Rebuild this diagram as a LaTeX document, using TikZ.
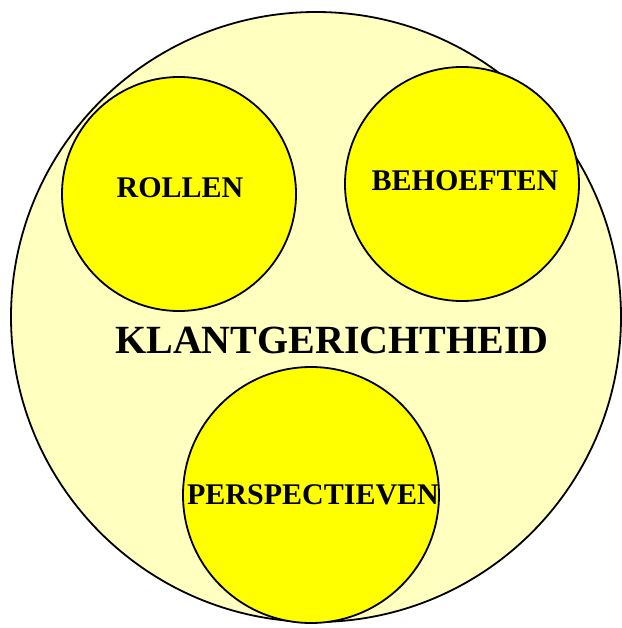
\documentclass[tikz,border=0pt]{standalone}
\usepackage{fontspec}
\setmainfont{Liberation Serif}

\definecolor{paleyellow}{RGB}{255,255,192}
\definecolor{brightyellow}{RGB}{255,255,0}

\begin{document}
\begin{tikzpicture}[x=1pt, y=-1pt,
  outer/.style={circle, draw=black, line width=1.8pt, fill=paleyellow, inner sep=0pt, minimum size=610pt},
  inner/.style={circle, draw=black, line width=1.8pt, fill=brightyellow, inner sep=0pt},
  lbl/.style={font=\fontsize{30}{32}\selectfont\bfseries, inner sep=0pt},
  title/.style={font=\fontsize{40}{44}\selectfont\bfseries, inner sep=0pt}]

\useasboundingbox (0,0) rectangle (621,628);

% ── Outer circle ──
\node[outer] (klant) at (316, 317) {};

% ── Inner circles ──
\node[inner, minimum size=234pt] (rollen) at (179, 194) {};
\node[inner, minimum size=234pt] (behoeften) at (462, 184) {};
\node[inner, minimum size=256pt] (perspectieven) at (311, 495) {};

% Labels
\node[lbl] (rollenlbl) at (180, 188) {ROLLEN};
\node[lbl] (behoeftenlbl) at (465, 181) {BEHOEFTEN};
\node[lbl] (perspectievenlbl) at (313, 495) {PERSPECTIEVEN};
\node[title] (klantlbl) at (332, 340) {KLANTGERICHTHEID};

\end{tikzpicture}
\end{document}
